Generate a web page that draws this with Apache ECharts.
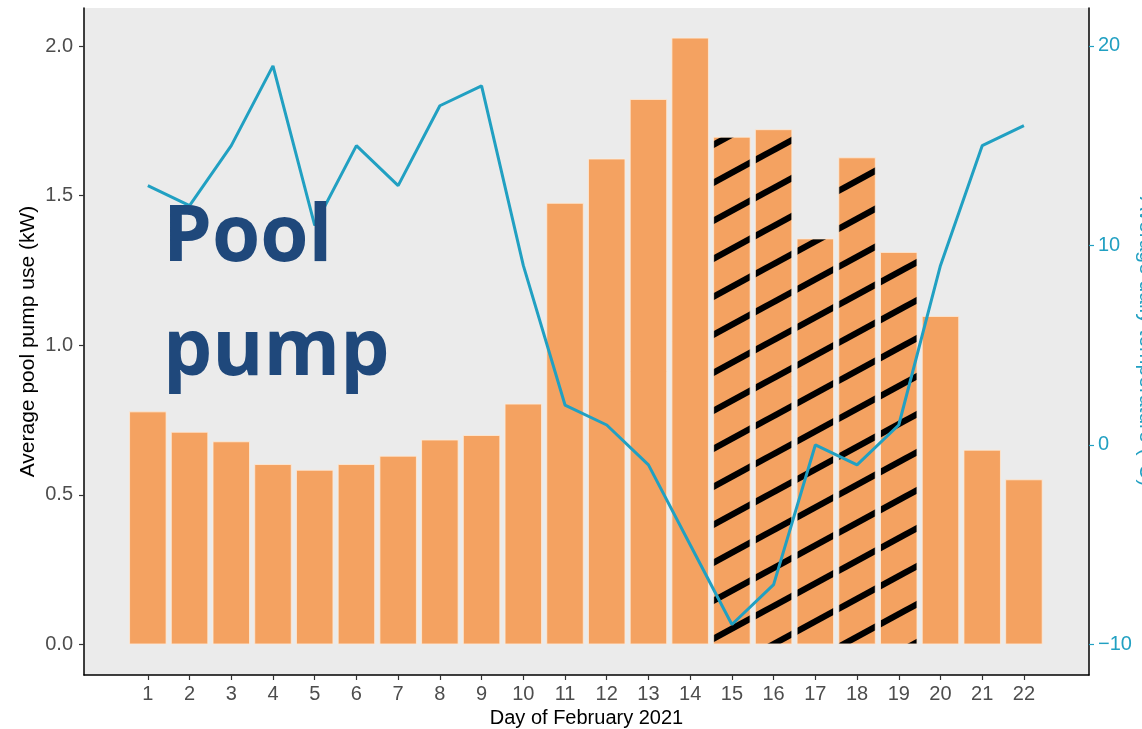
<!DOCTYPE html>
<html>
<head>
<meta charset="utf-8">
<script src="https://cdn.jsdelivr.net/npm/echarts@6/dist/echarts.min.js"></script>
<style>
html,body{margin:0;padding:0;background:#fff;}
#chart{width:1142px;height:729px;}
</style>
</head>
<body>
<div id="chart"></div>
<script>
// ---- data ----
const days = [1,2,3,4,5,6,7,8,9,10,11,12,13,14,15,16,17,18,19,20,21,22];
const pumpKW = [0.779,0.711,0.679,0.603,0.584,0.603,0.631,0.685,0.700,0.805,1.476,1.624,1.823,2.028,1.697,1.722,1.357,1.628,1.312,1.098,0.651,0.552];
const tempC = [13,12,15,19,11,15,13,17,18,9,2,1,-1,-5,-9,-7,0,-1,1,9,15,16];
const hatchedDays = [15,16,17,18,19];
const leftTicks = [0,0.5,1,1.5,2];
const rightTicks = [-10,0,10,20];

const ORANGE = '#F4A261';
const TEAL = '#21a0c2';

function makeHatch(){
  const W = 70, H = 38;
  const c = document.createElement('canvas');
  c.width = W; c.height = H;
  const g = c.getContext('2d');
  g.fillStyle = ORANGE; g.fillRect(0,0,W,H);
  g.strokeStyle = '#000'; g.lineWidth = 6.3;
  for (let k=-1;k<=1;k++){
    g.beginPath();
    g.moveTo(-5, H + k*H + 5*H/W);
    g.lineTo(W+5, k*H - 5*H/W);
    g.stroke();
  }
  return c;
}
const hatch = makeHatch();

const barData = days.map((d,i)=>{
  const item = {value:[d, pumpKW[i]]};
  if (hatchedDays.includes(d)) item.itemStyle = {color:{image:hatch, repeat:'repeat'}};
  return item;
});
const lineData = days.map((d,i)=>[d, tempC[i]]);

const chart = echarts.init(document.getElementById('chart'));
chart.setOption({
  animation:false,
  backgroundColor:'#fff',
  textStyle:{fontFamily:'Liberation Sans, Arial, sans-serif'},
  grid:{left:84,right:53,top:8,bottom:54,show:true,backgroundColor:'#ebebeb',borderWidth:0,
        outerBoundsMode:'none',containLabel:false},
  xAxis:{
    type:'value', min:-0.53, max:23.56,
    axisLine:{show:true,onZero:false,lineStyle:{color:'#000',width:1.5}},
    axisTick:{show:true,customValues:days,length:5,lineStyle:{color:'#333',width:1.2}},
    axisLabel:{customValues:days,fontSize:20,color:'#4d4d4d',margin:9},
    splitLine:{show:false},
    name:'Day of February 2021',nameLocation:'middle',nameGap:33,nameMoveOverlap:false,
    nameTextStyle:{fontSize:20,color:'#000'}
  },
  yAxis:[{
    type:'value', min:-0.102, max:2.127, position:'left',
    axisLine:{show:true,onZero:false,lineStyle:{color:'#000',width:1.5}},
    axisTick:{show:true,customValues:leftTicks,length:5,lineStyle:{color:'#333',width:1.2}},
    axisLabel:{customValues:leftTicks,fontSize:20,color:'#4d4d4d',margin:11,formatter:v=>v.toFixed(1)},
    splitLine:{show:false},
    name:'Average pool pump use (kW)',nameLocation:'middle',nameGap:45,nameMoveOverlap:false,
    nameTextStyle:{fontSize:21,color:'#000'}
  },{
    type:'value', min:-11.53, max:21.9, position:'right',
    axisLine:{show:true,onZero:false,lineStyle:{color:'#000',width:1.5}},
    axisTick:{show:true,customValues:rightTicks,length:5,lineStyle:{color:TEAL,width:1.2}},
    axisLabel:{customValues:rightTicks,fontSize:20,color:TEAL,margin:9,formatter:v=>v<0?'\u2212'+Math.abs(v):String(v)},
    splitLine:{show:false},
    name:'Average daily temperature (\u00b0C)',nameLocation:'middle',nameGap:46,nameRotate:-90,nameMoveOverlap:false,
    nameTextStyle:{fontSize:21,color:TEAL}
  }],
  series:[{
    type:'bar', data:barData, barWidth:37.5, clip:false,
    itemStyle:{color:ORANGE,borderColor:'rgba(255,235,215,0.8)',borderWidth:1}
  },{
    type:'line', yAxisIndex:1, data:lineData, symbol:'none', z:5,
    lineStyle:{color:TEAL,width:3}
  }],
  graphic:[{
    type:'text', left:163, top:182, z:100,
    style:{text:'Pool\npump',fill:'#1f487b',font:'bold 78px "Open Sans", sans-serif',lineHeight:114}
  }]
});
</script>
</body>
</html>
